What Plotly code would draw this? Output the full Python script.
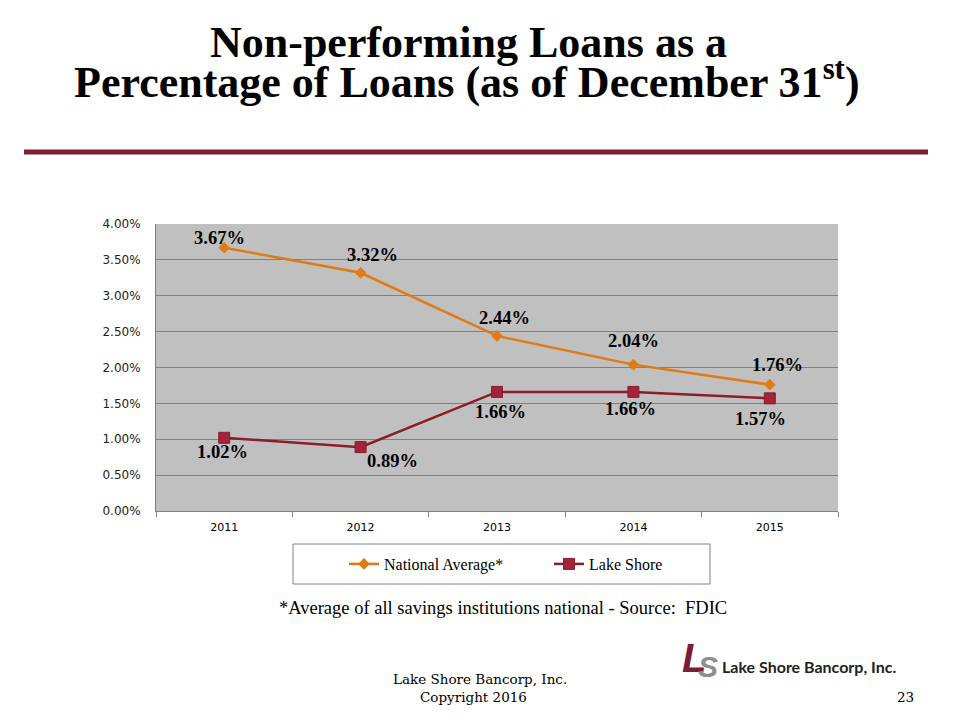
import plotly.graph_objects as go

years = ["2011", "2012", "2013", "2014", "2015"]
national = [3.67, 3.32, 2.44, 2.04, 1.76]
lake_shore = [1.02, 0.89, 1.66, 1.66, 1.57]
y_ticks = [0, 0.5, 1.0, 1.5, 2.0, 2.5, 3.0, 3.5, 4.0]

ORANGE = "#E07B14"
MAROON = "#8A1C2C"

fig = go.Figure()
fig.add_trace(go.Scatter(
    x=years, y=national, name="National Average*", mode="lines+markers",
    line=dict(color=ORANGE, width=2.5),
    marker=dict(symbol="diamond", size=9, color=ORANGE),
))
fig.add_trace(go.Scatter(
    x=years, y=lake_shore, name="Lake Shore", mode="lines+markers",
    line=dict(color=MAROON, width=2.5),
    marker=dict(symbol="square", size=11, color="#A3243A", line=dict(color=MAROON, width=1)),
))

lab_font = dict(family="Liberation Serif", size=18.5, color="black")
nat_off = [(-5, 10), (12, 18), (7, 18), (0, 24), (8, 20)]
ls_off = [(-2, -14), (32, -14), (3, -20), (-3, -17), (-9, -21)]
for i, v in enumerate(national):
    fig.add_annotation(x=i, y=v, text="<b>%.2f%%</b>" % v, showarrow=False,
                       xshift=nat_off[i][0], yshift=nat_off[i][1], font=lab_font)
for i, v in enumerate(lake_shore):
    fig.add_annotation(x=i, y=v, text="<b>%.2f%%</b>" % v, showarrow=False,
                       xshift=ls_off[i][0], yshift=ls_off[i][1], font=lab_font)

def px(x):
    return (x - 156) / 682

def py(y):
    return (511 - y) / 287

# Title
title_font = dict(family="Liberation Serif", size=44, color="black")
fig.add_annotation(xref="paper", yref="paper", xanchor="center", yanchor="middle",
                   x=px(468), y=py(42), showarrow=False,
                   text="<b>Non-performing Loans as a</b>", font=title_font)
fig.add_annotation(xref="paper", yref="paper", xanchor="center", yanchor="middle",
                   x=px(467), y=py(80), showarrow=False,
                   text="<b>Percentage of Loans (as of December 31<sup>st</sup>)</b>", font=title_font)

# Divider line
fig.add_shape(type="line", xref="paper", yref="paper",
              x0=px(24), x1=px(928), y0=py(152), y1=py(152),
              line=dict(color="#7A2230", width=5))

# Footnote
fig.add_annotation(xref="paper", yref="paper", xanchor="center", yanchor="middle",
                   x=px(503), y=py(608), showarrow=False,
                   text="*Average of all savings institutions national - Source:  FDIC",
                   font=dict(family="Liberation Serif", size=18.5, color="black"))

# Footer
foot_font = dict(family="DejaVu Serif", size=13.5, color="black")
fig.add_annotation(xref="paper", yref="paper", xanchor="center", yanchor="middle",
                   x=px(480), y=py(679), showarrow=False,
                   text="Lake Shore Bancorp, Inc.", font=foot_font)
fig.add_annotation(xref="paper", yref="paper", xanchor="center", yanchor="middle",
                   x=px(473), y=py(697), showarrow=False,
                   text="Copyright 2016", font=foot_font)
fig.add_annotation(xref="paper", yref="paper", xanchor="center", yanchor="middle",
                   x=px(906), y=py(697), showarrow=False,
                   text="23", font=foot_font)

# Logo
fig.add_annotation(xref="paper", yref="paper", xanchor="center", yanchor="middle",
                   x=px(694), y=py(658), showarrow=False,
                   text="<b><i>L</i></b>", font=dict(family="Liberation Sans", size=40, color="#7A1E35"))
fig.add_annotation(xref="paper", yref="paper", xanchor="center", yanchor="middle",
                   x=px(708), y=py(666), showarrow=False,
                   text="<b><i>S</i></b>", font=dict(family="Liberation Sans", size=30, color="#8E8E8E"))
fig.add_annotation(xref="paper", yref="paper", xanchor="left", yanchor="middle",
                   x=px(720), y=py(666), showarrow=False,
                   text="<b>Lake Shore Bancorp, Inc.</b>",
                   font=dict(family="Lato", size=16, color="#222"))

# Legend box
fig.add_shape(type="rect", xref="paper", yref="paper",
              x0=px(293), x1=px(710), y0=py(544), y1=py(584),
              line=dict(color="#808080", width=1), fillcolor="white", layer="below")

fig.update_layout(
    width=960, height=720,
    margin=dict(l=156, r=122, t=224, b=209),
    paper_bgcolor="white", plot_bgcolor="#C0C0C0",
    showlegend=True,
    legend=dict(orientation="h", xanchor="left", yanchor="middle",
                x=px(344), y=py(564),
                font=dict(family="Liberation Serif", size=16, color="black"),
                bgcolor="rgba(0,0,0,0)", entrywidth=160, itemwidth=30),
    xaxis=dict(type="category", range=[-0.5, 4.5], showgrid=False,
               ticks="outside", tickson="boundaries",
               ticklen=5, tickcolor="#808080", showline=True, linecolor="#808080",
               tickfont=dict(family="DejaVu Sans", size=11, color="black"),
               tickangle=0, ticklabelstandoff=6),
    yaxis=dict(range=[0, 4.0], tickvals=y_ticks,
               ticktext=["%.2f%%" % t for t in y_ticks],
               showgrid=True, gridcolor="#808080", gridwidth=1,
               ticks="", ticklabelstandoff=12,
               showline=True, linecolor="#808080", zeroline=False,
               tickfont=dict(family="DejaVu Sans", size=12, color="#222")),
)

fig.write_html("out.html")
